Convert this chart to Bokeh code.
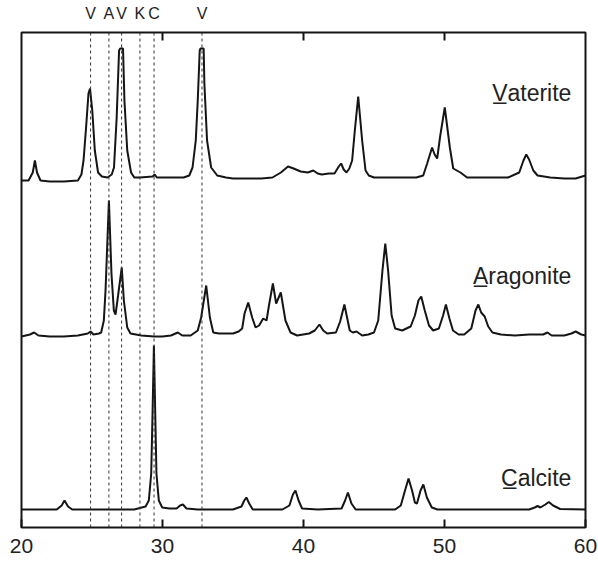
from bokeh.plotting import figure
from bokeh.models import LinearAxis, FixedTicker, Span, Range1d, ColumnDataSource
from bokeh.core.properties import value
from bokeh.embed import file_html
from bokeh.resources import INLINE

# ---- data (2-theta in degrees, intensity above each pattern's own baseline) ----
vaterite_x = [20.0, 20.5, 20.8, 20.95, 21.1, 21.35, 22.0, 23.0, 24.0, 24.25, 24.4, 24.58, 24.75, 24.86, 25.02, 25.2,
              25.43, 25.7, 26.1, 26.4, 26.56, 26.75, 26.92, 27.0, 27.2, 27.3, 27.5, 27.77, 28.0, 28.4, 29.3, 29.45,
              29.6, 30.5, 31.5, 31.9, 32.13, 32.36, 32.5, 32.64, 32.7, 32.92, 32.97, 33.16, 33.45, 33.88, 34.5, 35.0,
              36.0, 37.0, 37.8, 38.4, 38.9, 39.3, 39.8, 40.3, 40.7, 41.0, 41.3, 41.8, 42.2, 42.5, 42.67, 42.85,
              43.05, 43.25, 43.45, 43.64, 43.88, 44.16, 44.4, 44.63, 45.0, 46.0, 47.0, 48.0, 48.49, 48.77, 49.12, 49.3,
              49.48, 49.7, 50.02, 50.38, 50.62, 51.13, 51.6, 52.0, 53.0, 54.5, 55.3, 55.6, 55.8, 56.0, 56.3, 56.6,
              57.5, 58.5, 59.3, 60.0]
vaterite_y = [0, 0, 8, 20, 8, 0, -1, -1, 0, 6, 20, 53, 87, 92, 70, 30,
              8, 4, 3, 6, 13, 63, 130, 132, 132, 80, 30, 8, 3, 3, 4, 6,
              3, 3, 3, 5, 13, 40, 80, 130, 132, 132, 97, 40, 13, 5, 3, 2,
              2, 2, 3, 8, 14, 12, 9, 8, 10, 7, 6, 7, 7, 14, 17, 11,
              8, 12, 20, 50, 84, 40, 10, 5, 3, 3, 3, 3, 5, 17, 33, 26,
              22, 45, 73, 33, 12, 8, 3, 3, 3, 3, 8, 20, 26, 21, 10, 5,
              3, 2, 2, 5]

aragonite_x = [20.0, 20.6, 20.9, 21.2, 22.0, 23.0, 24.0, 24.7, 24.9, 25.1, 25.5, 25.65, 25.84, 25.96, 26.2, 26.38,
               26.55, 26.67, 26.85, 27.11, 27.26, 27.5, 27.73, 28.5, 29.4, 30.0, 30.6, 31.09, 31.4, 32.0, 32.5, 32.74,
               33.1, 33.36, 33.6, 34.0, 35.0, 35.4, 35.65, 35.82, 36.08, 36.36, 36.6, 36.85, 37.14, 37.38, 37.55, 37.83,
               38.06, 38.39, 38.72, 39.08, 39.55, 40.4, 40.8, 41.13, 41.4, 41.68, 42.3, 42.6, 42.9, 43.28, 43.5, 43.76,
               44.16, 44.6, 45.0, 45.3, 45.6, 45.8, 46.0, 46.25, 46.5, 47.0, 47.6, 47.9, 48.15, 48.35, 48.6, 48.9,
               49.2, 49.6, 49.9, 50.1, 50.35, 50.6, 51.0, 51.4, 51.9, 52.2, 52.4, 52.6, 52.85, 53.1, 53.4, 54.0,
               55.0, 56.0, 56.5, 57.0, 57.3, 57.6, 58.5, 59.0, 59.3, 59.7, 60.0]
aragonite_y = [-1, 1, 3, 0, -1, -1, 0, 2, 4, 1, 2, 3, 15, 45, 135, 62,
               25, 21, 40, 68, 35, 8, 2, 0, -1, -1, 0, 3, 0, 0, 5, 18,
               50, 18, 3, 2, 2, 4, 7, 22, 33, 18, 8, 10, 17, 15, 30, 52,
               32, 43, 15, 3, 0, 2, 5, 11, 5, 2, 3, 14, 31, 5, 3, 4,
               0, 1, 3, 15, 65, 92, 65, 20, 7, 5, 9, 20, 35, 39, 25, 10,
               5, 7, 20, 31, 17, 5, 1, 1, 7, 25, 31, 23, 19, 9, 3, 1,
               0, 1, 1, 1, 3, 0, 0, 2, 4, 1, 0]

calcite_x = [20.0, 22.5, 22.85, 23.05, 23.3, 23.6, 25.0, 28.0, 28.8, 29.03, 29.2, 29.3, 29.39, 29.48, 29.57, 29.74,
             29.98, 30.5, 31.0, 31.25, 31.45, 31.7, 32.5, 35.0, 35.6, 35.8, 35.95, 36.15, 36.4, 38.5, 39.0, 39.25,
             39.43, 39.65, 39.9, 41.0, 42.7, 42.95, 43.15, 43.4, 43.7, 46.5, 46.9, 47.2, 47.45, 47.7, 47.9, 48.05,
             48.3, 48.5, 48.75, 49.1, 49.5, 56.0, 56.4, 56.6, 56.8, 57.15, 57.4, 57.7, 58.2, 60.0]
calcite_y = [0, 0, 4, 9, 3, 0, 0, 0, 3, 9, 36, 100, 164, 100, 36, 9,
             2, 1, 1, 4, 5, 1, 0, 0, 3, 9, 12, 6, 0, 0, 4, 15,
             19, 9, 1, 0, 1, 9, 17, 6, 0, 0, 4, 19, 31, 19, 7, 6,
             19, 25, 12, 2, 0, 0, 2, 3.5, 2, 5, 7.5, 4, 0.5, 0]

names = ["V\u0332aterite", "A\u0332ragonite", "C\u0332alcite"]

marker_positions = [24.9, 26.2, 27.1, 28.4, 29.4, 32.8]
marker_letters = ["V", "A", "V", "K", "C", "V"]

x_ticks = [20, 30, 40, 50, 60]

# ---- layout constants ----
Y_TOP = 495
TICK_LEN = 8
offsets = [347, 192, 18]          # vertical stacking of the patterns
label_y = [435, 252, 50]
label_x = 59.0

FONT = "Liberation Sans"
INK = "#151515"

p = figure(width=598, height=562, output_backend="svg", toolbar_location=None,
           x_range=Range1d(20, 60), y_range=Range1d(0, Y_TOP),
           x_axis_location=None, y_axis_location=None,
           min_border_left=21, min_border_right=13, min_border_top=32, min_border_bottom=35)
p.xgrid.visible = False
p.ygrid.visible = False
p.outline_line_color = INK
p.outline_line_width = 2
p.background_fill_color = "white"
p.border_fill_color = "white"

# dashed reference lines
for xm in marker_positions:
    p.add_layout(Span(location=xm, dimension="height", line_color="#333333",
                      line_width=1, line_dash="3 3"))

series = [(vaterite_x, vaterite_y), (aragonite_x, aragonite_y), (calcite_x, calcite_y)]
for (xs, ys), off in zip(series, offsets):
    src = ColumnDataSource(dict(x=xs, y=[v + off for v in ys]))
    p.line("x", "y", source=src, line_color=INK, line_width=2)

lab_src = ColumnDataSource(dict(x=[label_x] * 3, y=label_y, t=names))
p.text("x", "y", text="t", source=lab_src, text_align="right", text_baseline="alphabetic",
       text_font=value(FONT), text_font_size="23px", text_color="#222222")

# inward ticks along the top edge, at the bottom axis tick positions
inner = x_ticks[1:-1]
p.segment(x0=inner, x1=inner, y0=[Y_TOP] * len(inner), y1=[Y_TOP - TICK_LEN] * len(inner),
          line_color=INK, line_width=2)

# bottom axis
xb = LinearAxis(ticker=FixedTicker(ticks=x_ticks))
xb.major_tick_in = TICK_LEN
xb.major_tick_out = 0
xb.major_tick_line_width = 2
xb.major_tick_line_color = INK
xb.minor_tick_line_color = None
xb.axis_line_color = None
xb.major_label_standoff = 11
xb.major_label_text_font = FONT
xb.major_label_text_font_size = "21px"
xb.major_label_text_color = "#222222"
p.add_layout(xb, "below")

# top letters for the reference lines
xl = LinearAxis(ticker=FixedTicker(ticks=marker_positions))
xl.major_label_overrides = {k: v for k, v in zip(marker_positions, marker_letters)}
xl.major_tick_line_color = None
xl.minor_tick_line_color = None
xl.axis_line_color = None
xl.major_label_standoff = 5
xl.major_label_text_font = FONT
xl.major_label_text_font_size = "16px"
xl.major_label_text_color = "#222222"
p.add_layout(xl, "above")

open("out.html", "w").write(file_html(p, INLINE))
